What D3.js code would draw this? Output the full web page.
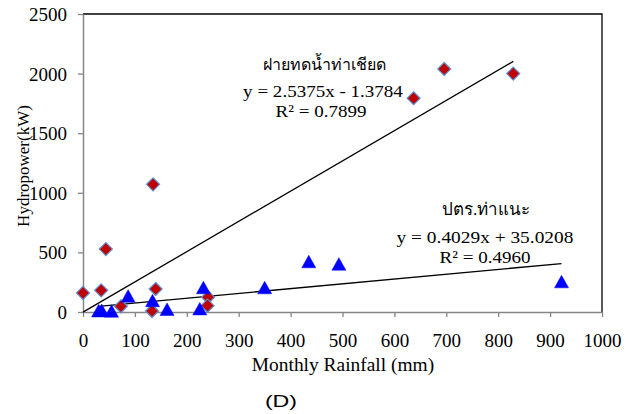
<!DOCTYPE html>
<html><head><meta charset="utf-8">
<script src="https://cdn.jsdelivr.net/npm/d3@7"></script>
<style>
body{margin:0;background:#fff}
.sx{transform-box:fill-box;transform-origin:center}
</style>
</head><body>
<script>
// Series: ฝายทดน้ำท่าเชียด (diamonds)
const weirRain  = [0, 35, 44, 73, 133, 140, 135, 241, 240, 637, 696, 829];
const weirPower = [160, 182, 528, 48, 8, 193, 1071, 124, 53, 1793, 2039, 2000];
// Series: ปตร.ท่าแนะ (triangles)
const gateRain  = [30, 36, 55, 87, 134, 162, 225, 232, 350, 435, 493, 922];
const gatePower = [5, 8, 2, 128, 90, 17, 22, 199, 199, 417, 397, 249];
// Trendlines
const trendSlope = [2.5375, 0.4029];
const trendIntercept = [-1.3784, 35.0208];
const seriesNames = ["ฝายทดน้ำท่าเชียด", "ปตร.ท่าแนะ"];
const eqTexts = ["y = 2.5375x - 1.3784", "y = 0.4029x + 35.0208"];
const r2Texts = ["R² = 0.7899", "R² = 0.4960"];
const xTicks = [0,100,200,300,400,500,600,700,800,900,1000];
const yTicks = [0,500,1000,1500,2000,2500];

const W = 632, H = 414;
const svg = d3.select("body").append("svg").attr("width", W).attr("height", H);
const L = 83, R = 602, T = 14, B = 312;
const x = d3.scaleLinear().domain([0,1000]).range([L,R]);
const y = d3.scaleLinear().domain([0,2500]).range([B,T]);
const serif = "'Liberation Serif','Times New Roman',serif";

// plot border (top/right black)
svg.append("path").attr("d", `M${L},${T}H${R}V${B}`).attr("fill","none").attr("stroke","#000").attr("stroke-width",1.3);

// axes
const gx = svg.append("g").attr("transform", `translate(0,${B})`)
  .call(d3.axisBottom(x).tickValues(xTicks).tickFormat(d3.format("d")).tickSize(5).tickSizeOuter(0));
const gy = svg.append("g").attr("transform", `translate(${L},0)`)
  .call(d3.axisLeft(y).tickValues(yTicks).tickFormat(d3.format("d")).tickSize(5).tickSizeOuter(0));
[gx, gy].forEach(g => {
  g.attr("font-family", serif).attr("font-size", 19);
  g.select(".domain").attr("stroke","#868686").attr("stroke-width",1.5);
  g.selectAll(".tick line").attr("stroke","#868686").attr("stroke-width",1.3);
  g.selectAll(".tick text").attr("fill","#000");
});
gx.selectAll(".tick text").attr("y", 35).attr("dy", 0);
gy.selectAll(".tick text").attr("x", -16).attr("dy", "0.34em");

// trendlines
const weirX = d3.extent(weirRain), gateX = d3.extent(gateRain);
[weirX, gateX].forEach((ext, i) => {
  svg.append("line")
    .attr("x1", x(ext[0])).attr("y1", y(trendSlope[i]*ext[0] + trendIntercept[i]))
    .attr("x2", x(ext[1])).attr("y2", y(trendSlope[i]*ext[1] + trendIntercept[i]))
    .attr("stroke","#000").attr("stroke-width",1.3);
});

// diamonds
svg.append("g").selectAll("path").data(weirRain.map((d,i)=>[d, weirPower[i]])).join("path")
  .attr("transform", d => `translate(${x(d[0])},${y(d[1])})`)
  .attr("d", "M0,-6.5L6.5,0L0,6.5L-6.5,0Z")
  .attr("fill","#c00000").attr("stroke","#5b8fd0").attr("stroke-width",1.2);

// triangles
svg.append("g").selectAll("path").data(gateRain.map((d,i)=>[d, gatePower[i]])).join("path")
  .attr("transform", d => `translate(${x(d[0])},${y(d[1])})`)
  .attr("d", "M0,-7L7,5.5L-7,5.5Z")
  .attr("fill","#0000ff").attr("stroke","#0000ff").attr("stroke-width",0.5);

// annotation texts
function txt(s, cx, by, size, sx, fam) {
  svg.append("text").attr("class","sx").attr("x", cx).attr("y", by).attr("text-anchor","middle")
    .style("font-family", fam || serif).style("font-size", size + "px")
    .style("transform", `scaleX(${sx})`).attr("fill","#000").text(s);
}
txt(seriesNames[0], 324, 70, 16, 1);
txt(eqTexts[0], 323, 97, 17, 1.12);
txt(r2Texts[0], 321, 117, 17, 1.12);
txt(seriesNames[1], 486, 215, 17, 1);
txt(eqTexts[1], 485, 243, 17, 1.14);
txt(r2Texts[1], 485, 263, 17, 1.12);

// axis titles
txt("Monthly Rainfall (mm)", 343, 371, 18, 1.08);
svg.append("text").attr("transform","translate(29,166) rotate(-90)").attr("text-anchor","middle")
  .style("font-family", serif).style("font-size","17px").text("Hydropower(kW)");
txt("(D)", 281, 407, 16, 1.45, "'Liberation Sans',Arial,sans-serif");
</script>
</body></html>
